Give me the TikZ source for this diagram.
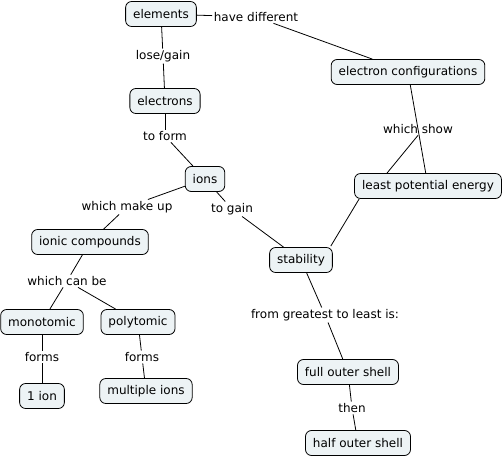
\documentclass[tikz,border=0pt]{standalone}
\usepackage{fontspec}
\setmainfont{DejaVu Sans}
\definecolor{boxfill}{RGB}{237,243,245}
\begin{document}
\begin{tikzpicture}[x=1pt,y=-1pt,
  every node/.style={font=\fontsize{12}{14}\selectfont, text=black},
  box/.style={draw=black, fill=boxfill, rounded corners=6pt, minimum height=25pt,
              inner xsep=7.5pt, inner ysep=0pt, line width=0.8pt},
  lbl/.style={inner sep=1.5pt},
  conn/.style={draw=black, line width=0.8pt}]
\useasboundingbox (0,0) rectangle (504,458);
% concepts
\node[box] (el)   at (161,14)  {elements};
\node[box] (ec)   at (408,72)  {electron configurations};
\node[box] (eln)  at (165,101) {electrons};
\node[box] (lpe)  at (428,186) {least potential energy};
\node[box] (ions) at (205,179) {ions};
\node[box] (ic)   at (90,242)  {ionic compounds};
\node[box] (stab) at (301,260) {stability};
\node[box] (mono) at (42,322)  {monotomic};
\node[box] (poly) at (138,322) {polytomic};
\node[box] (one)  at (42,396)  {1 ion};
\node[box] (mult) at (146,391) {multiple ions};
\node[box] (fos)  at (348,372) {full outer shell};
\node[box] (hos)  at (358,443) {half outer shell};
% linking phrases
\node[lbl] (hd)  at (256,17)  {have different};
\node[lbl] (lg)  at (163,56)  {lose/gain};
\node[lbl] (tf)  at (165,136) {to form};
\node[lbl] (ws)  at (418,129) {which show};
\node[lbl] (wmu) at (127,207) {which make up};
\node[lbl] (tg)  at (232,209) {to gain};
\node[lbl] (wcb) at (67,281)  {which can be};
\node[lbl] (fg)  at (325,315) {from greatest to least is:};
\node[lbl] (fm1) at (42,357)  {forms};
\node[lbl] (fm2) at (142,357) {forms};
\node[lbl] (th)  at (352,408) {then};
% connectors
\draw[conn] (el) -- (hd);
\draw[conn] (hd) -- (ec);
\draw[conn] (el) -- (lg);
\draw[conn] (lg) -- (eln);
\draw[conn] (eln) -- (tf);
\draw[conn] (tf) -- (ions);
\draw[conn] (ec) -- (lpe);
\draw[conn] (ws.south) -- ([xshift=-41pt]lpe.north);
\draw[conn] ([xshift=5pt]lpe.south west) -- ([xshift=-2pt,yshift=1pt]stab.north east);
\draw[conn] (ions) -- (wmu);
\draw[conn] (wmu) -- (ic);
\draw[conn] (ions) -- (tg);
\draw[conn] (tg) -- (stab);
\draw[conn] (ic) -- (wcb);
\draw[conn] (wcb) -- (mono);
\draw[conn] (wcb) -- (poly);
\draw[conn] (mono) -- (fm1);
\draw[conn] (fm1) -- (one);
\draw[conn] (poly) -- (fm2);
\draw[conn] (fm2) -- (mult);
\draw[conn] (stab) -- (fg);
\draw[conn] (fg) -- (fos);
\draw[conn] (fos) -- (th);
\draw[conn] (th) -- (hos);
\end{tikzpicture}
\end{document}
